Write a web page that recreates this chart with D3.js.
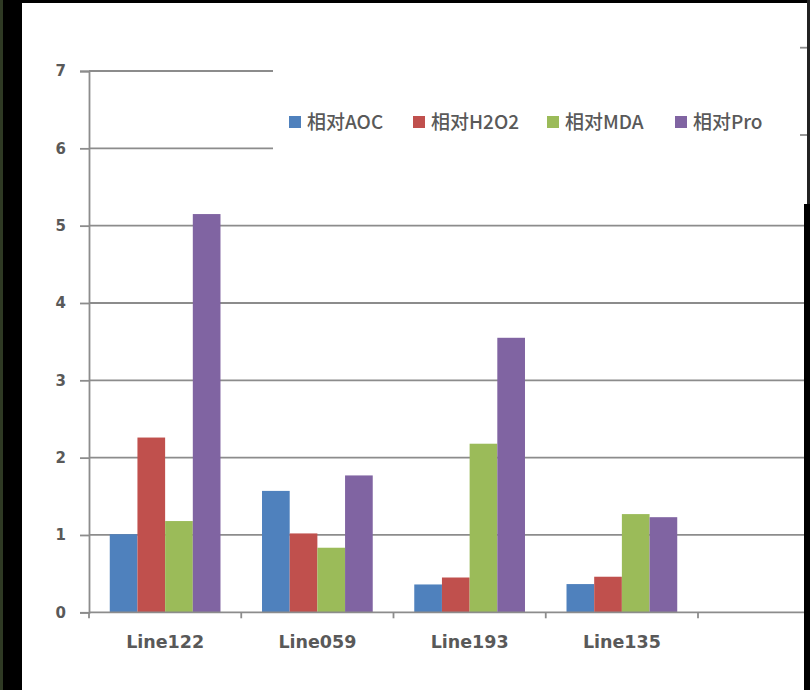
<!DOCTYPE html>
<html>
<head>
<meta charset="utf-8">
<script src="https://cdn.jsdelivr.net/npm/d3@7/dist/d3.min.js"></script>
<style>
  html, body { margin: 0; padding: 0; background: #fff; }
  svg { display: block; }
</style>
</head>
<body>
<script>
// Categories and relative indicator values per line
const categories = ["Line122", "Line059", "Line193", "Line135"];
const seriesNames = ["相对AOC", "相对H2O2", "相对MDA", "相对Pro"];
const seriesColors = ["#4f81bd", "#c0504d", "#9bbb59", "#8064a2"];
const aoc  = [1.01, 1.57, 0.36, 0.365];
const h2o2 = [2.26, 1.02, 0.45, 0.46];
const mda  = [1.18, 0.835, 2.18, 1.27];
const pro  = [5.15, 1.77, 3.55, 1.23];
const yTicks = [0, 1, 2, 3, 4, 5, 6, 7];

const series = [aoc, h2o2, mda, pro];

const W = 810, H = 690;
const svg = d3.select("body").append("svg").attr("width", W).attr("height", H);

const axisColor = "#8c8c8c";
const textColor = "#595959";

// Scales
const x = d3.scaleBand().domain(categories).range([89, 698]).paddingInner(0).paddingOuter(0);
const xs = d3.scaleBand().domain(seriesNames).range([0, x.bandwidth()]).paddingInner(0).paddingOuter(0.75);
const y = d3.scaleLinear().domain([0, 7]).range([612.3, 71]);

// Horizontal gridlines
svg.append("g").selectAll("line").data(yTicks.filter(d => d > 0)).join("line")
  .attr("x1", 89).attr("x2", W)
  .attr("y1", d => y(d)).attr("y2", d => y(d))
  .attr("stroke", axisColor).attr("stroke-width", 1.8);

// Bars
const groups = svg.append("g").selectAll("g").data(categories).join("g")
  .attr("transform", d => `translate(${x(d)},0)`);
groups.selectAll("rect")
  .data((c, i) => seriesNames.map((s, k) => ({ s, k, v: series[k][i] })))
  .join("rect")
  .attr("x", d => xs(d.s))
  .attr("width", xs.bandwidth())
  .attr("y", d => y(d.v))
  .attr("height", d => y(0) - y(d.v))
  .attr("fill", d => seriesColors[d.k]);

// Y axis
const yAxis = svg.append("g").attr("transform", "translate(89,0)")
  .call(d3.axisLeft(y).tickValues(yTicks).tickSize(9).tickPadding(14).tickFormat(d3.format("d")));
yAxis.select(".domain").attr("stroke", axisColor).attr("stroke-width", 1.8);
yAxis.selectAll(".tick line").attr("stroke", axisColor).attr("stroke-width", 1.8);
yAxis.selectAll(".tick text")
  .attr("fill", textColor)
  .style("font-family", "'DejaVu Sans', sans-serif")
  .style("font-weight", "bold")
  .style("font-size", "15px");

// X axis: baseline, category boundary ticks, labels
const xAxis = svg.append("g").attr("transform", `translate(0,${y(0)})`)
  .call(d3.axisBottom(x).tickSize(0).tickPadding(23));
xAxis.select(".domain").remove();
xAxis.append("line").attr("x1", 89).attr("x2", W).attr("y1", 0).attr("y2", 0)
  .attr("stroke", axisColor).attr("stroke-width", 1.8);
const bounds = categories.map(c => x(c)).concat([x.range()[1]]);
xAxis.selectAll(".bound").data(bounds).join("line").attr("class", "bound")
  .attr("x1", d => d).attr("x2", d => d).attr("y1", 0).attr("y2", 6)
  .attr("stroke", axisColor).attr("stroke-width", 1.8);
xAxis.selectAll(".tick text")
  .attr("fill", textColor)
  .style("font-family", "'DejaVu Sans', sans-serif")
  .style("font-weight", "bold")
  .style("font-size", "17.5px");

// Legend panel
svg.append("rect").attr("x", 273).attr("y", 40).attr("width", W - 273).attr("height", 165).attr("fill", "#fff");
const legendX = [289, 413, 547, 675];
const legend = svg.append("g").selectAll("g").data(seriesNames).join("g")
  .attr("transform", (d, i) => `translate(${legendX[i]},122)`);
legend.append("rect").attr("x", 0).attr("y", -6).attr("width", 12).attr("height", 12)
  .attr("fill", (d, i) => seriesColors[i]);
legend.append("text").attr("x", 18).attr("y", 0).attr("dy", "0.36em")
  .attr("fill", textColor)
  .style("font-family", "'Noto Sans CJK SC', sans-serif")
  .style("font-weight", "500")
  .style("font-size", "19px")
  .text(d => d);

// Short marks on the right edge of the legend panel
svg.append("g").selectAll("line").data([47.7, 135]).join("line")
  .attr("x1", 800).attr("x2", 807).attr("y1", d => d).attr("y2", d => d)
  .attr("stroke", axisColor).attr("stroke-width", 1.8);

// Surrounding frame
svg.append("rect").attr("x", 0).attr("y", 0).attr("width", W).attr("height", 3).attr("fill", "#000");
svg.append("rect").attr("x", 0).attr("y", 0).attr("width", 22).attr("height", H).attr("fill", "#000");
svg.append("rect").attr("x", 0).attr("y", 0).attr("width", 3).attr("height", H).attr("fill", "#2f3a24");
svg.append("rect").attr("x", 807).attr("y", 0).attr("width", 3).attr("height", H).attr("fill", "#222");
svg.append("rect").attr("x", 804).attr("y", 204).attr("width", 6).attr("height", H - 204).attr("fill", "#000");
</script>
</body>
</html>
